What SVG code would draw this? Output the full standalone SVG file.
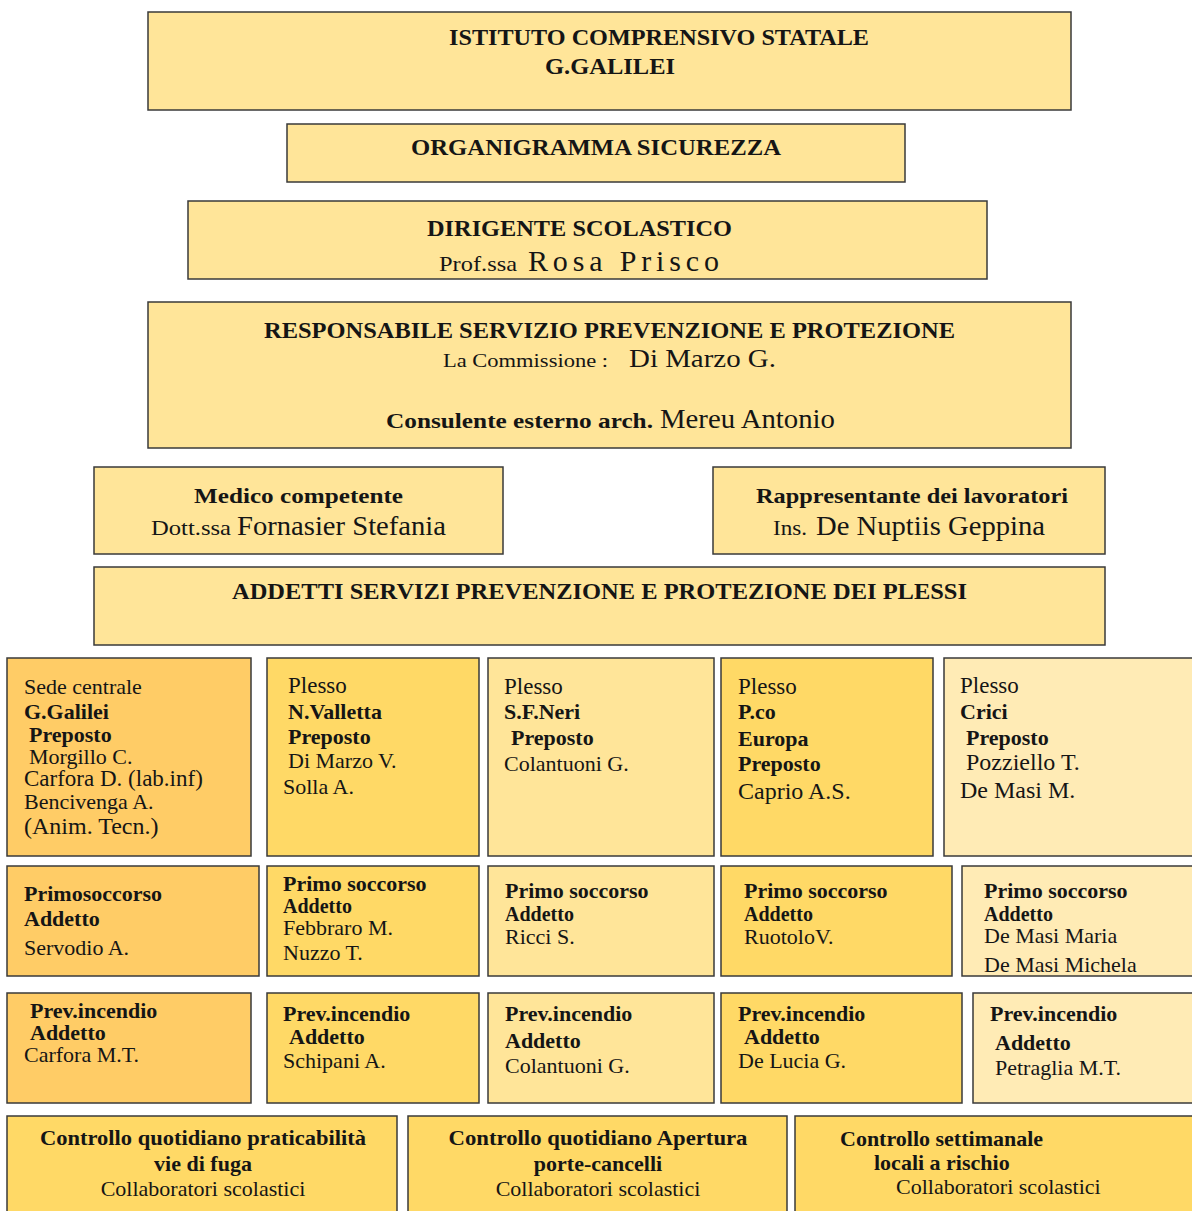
<svg xmlns="http://www.w3.org/2000/svg" width="1192" height="1211" viewBox="0 0 1192 1211" font-family="'Liberation Serif', 'DejaVu Serif', 'Times New Roman', serif">
<style>
rect.b { stroke:#3a3a3a; stroke-width:1.5; }
.hd { fill:#FFE599; }
.c1 { fill:#FFCC66; } .c2 { fill:#FFD966; } .c3 { fill:#FFE599; } .c4 { fill:#FFD966; } .c5 { fill:#FFEBB5; } .cb { fill:#FFD966; }
text { font-family:'Liberation Serif', 'DejaVu Serif', 'Times New Roman', serif; fill:#151515; }
.B { font-weight:bold; }
.t { font-size:22px; }
.L { font-size:24px; }
.p { font-size:23px; }
.m { text-anchor:middle; }
</style>
<defs>
<clipPath id="clipCrici"><rect x="962" y="866" width="240" height="109"/></clipPath>
</defs>
<rect width="1192" height="1211" fill="#ffffff"/>

<g id="istituto">
<rect class="b hd" x="148" y="12" width="923" height="98"/>
<text class="B" x="449" y="45" font-size="24" textLength="420" lengthAdjust="spacingAndGlyphs">ISTITUTO COMPRENSIVO STATALE</text>
<text class="B" x="545" y="74" font-size="24" textLength="130" lengthAdjust="spacingAndGlyphs">G.GALILEI</text>
</g>

<g id="organigramma">
<rect class="b hd" x="287" y="124" width="618" height="58"/>
<text class="B" x="411" y="155" font-size="24" textLength="370" lengthAdjust="spacingAndGlyphs">ORGANIGRAMMA  SICUREZZA</text>
</g>

<g id="dirigente">
<rect class="b hd" x="188" y="201" width="799" height="78"/>
<text class="B" x="427" y="236" font-size="24" textLength="305" lengthAdjust="spacingAndGlyphs">DIRIGENTE SCOLASTICO</text>
<text x="439" y="271" font-size="22" textLength="78" lengthAdjust="spacingAndGlyphs">Prof.ssa</text>
<text x="528" y="271" font-size="30" textLength="191" lengthAdjust="spacing">Rosa Prisco</text>
</g>

<g id="rspp">
<rect class="b hd" x="148" y="302" width="923" height="146"/>
<text class="B" x="264" y="338" font-size="24" textLength="691" lengthAdjust="spacingAndGlyphs">RESPONSABILE SERVIZIO PREVENZIONE E PROTEZIONE</text>
<text x="443" y="367" font-size="19" textLength="165" lengthAdjust="spacingAndGlyphs">La Commissione :</text>
<text x="629" y="367" font-size="26" textLength="147" lengthAdjust="spacingAndGlyphs">Di Marzo  G.</text>
<text class="B" x="386" y="428" font-size="21" textLength="267" lengthAdjust="spacingAndGlyphs">Consulente  esterno  arch.</text>
<text x="660" y="428" font-size="28" textLength="175" lengthAdjust="spacingAndGlyphs">Mereu Antonio</text>
</g>

<g id="medico">
<rect class="b hd" x="94" y="467" width="409" height="87"/>
<text class="B" x="194" y="503" font-size="22" textLength="209" lengthAdjust="spacingAndGlyphs">Medico  competente</text>
<text x="151" y="535" font-size="21" textLength="80" lengthAdjust="spacingAndGlyphs">Dott.ssa</text>
<text x="237" y="535" font-size="28" textLength="209" lengthAdjust="spacingAndGlyphs">Fornasier Stefania</text>
</g>

<g id="rappresentante">
<rect class="b hd" x="713" y="467" width="392" height="87"/>
<text class="B" x="756" y="503" font-size="22" textLength="312" lengthAdjust="spacingAndGlyphs">Rappresentante dei lavoratori</text>
<text x="773" y="535" font-size="21" textLength="34" lengthAdjust="spacingAndGlyphs">Ins.</text>
<text x="816" y="535" font-size="28" textLength="229" lengthAdjust="spacingAndGlyphs">De Nuptiis Geppina</text>
</g>

<g id="addetti">
<rect class="b hd" x="94" y="567" width="1011" height="78"/>
<text class="B" x="232" y="599" font-size="24" textLength="735" lengthAdjust="spacingAndGlyphs">ADDETTI SERVIZI PREVENZIONE E PROTEZIONE DEI PLESSI</text>
</g>

<!-- Plessi row -->
<g id="sede-centrale">
<rect class="b c1" x="7" y="658" width="244" height="198"/>
<text class="t" x="24" y="694">Sede centrale</text>
<text class="t B" x="24" y="719">G.Galilei</text>
<text class="t B" x="29" y="742">Preposto</text>
<text class="t" x="29" y="764">Morgillo C.</text>
<text class="p" x="24" y="786">Carfora D. (lab.inf)</text>
<text class="t" x="24" y="809">Bencivenga A.</text>
<text class="L" x="24" y="834">(Anim. Tecn.)</text>
</g>

<g id="plesso-valletta">
<rect class="b c2" x="267" y="658" width="212" height="198"/>
<text class="p" x="288" y="693">Plesso</text>
<text class="t B" x="288" y="719">N.Valletta</text>
<text class="t B" x="288" y="744">Preposto</text>
<text class="t" x="288" y="768">Di Marzo V.</text>
<text class="t" x="283" y="794">Solla A.</text>
</g>

<g id="plesso-neri">
<rect class="b c3" x="488" y="658" width="226" height="198"/>
<text class="p" x="504" y="694">Plesso</text>
<text class="t B" x="504" y="719">S.F.Neri</text>
<text class="t B" x="511" y="745">Preposto</text>
<text class="t" x="504" y="771">Colantuoni G.</text>
</g>

<g id="plesso-europa">
<rect class="b c4" x="721" y="658" width="212" height="198"/>
<text class="p" x="738" y="694">Plesso</text>
<text class="t B" x="738" y="719">P.co</text>
<text class="t B" x="738" y="746">Europa</text>
<text class="t B" x="738" y="771">Preposto</text>
<text class="L" x="738" y="799">Caprio A.S.</text>
</g>

<g id="plesso-crici">
<rect class="b c5" x="944" y="658" width="260" height="198"/>
<text class="p" x="960" y="693">Plesso</text>
<text class="t B" x="960" y="719">Crici</text>
<text class="t B" x="966" y="745">Preposto</text>
<text class="L" x="966" y="770">Pozziello T.</text>
<text class="L" x="960" y="798">De Masi M.</text>
</g>

<!-- Primo soccorso row -->
<g id="ps-sede">
<rect class="b c1" x="7" y="866" width="252" height="110"/>
<text class="t B" x="24" y="901">Primosoccorso</text>
<text class="t B" x="24" y="926">Addetto</text>
<text class="t" x="24" y="955">Servodio A.</text>
</g>

<g id="ps-valletta">
<rect class="b c2" x="267" y="866" width="212" height="110"/>
<text class="t B" x="283" y="891">Primo soccorso</text>
<text class="B" x="283" y="913" font-size="20">Addetto</text>
<text class="t" x="283" y="935">Febbraro M.</text>
<text class="t" x="283" y="960">Nuzzo T.</text>
</g>

<g id="ps-neri">
<rect class="b c3" x="488" y="866" width="226" height="110"/>
<text class="t B" x="505" y="898">Primo soccorso</text>
<text class="B" x="505" y="921" font-size="20">Addetto</text>
<text class="t" x="505" y="944">Ricci S.</text>
</g>

<g id="ps-europa">
<rect class="b c4" x="721" y="866" width="231" height="110"/>
<text class="t B" x="744" y="898">Primo soccorso</text>
<text class="B" x="744" y="921" font-size="20">Addetto</text>
<text class="t" x="744" y="944">RuotoloV.</text>
</g>

<g id="ps-crici">
<rect class="b c5" x="962" y="866" width="240" height="110"/>
<text class="t B" x="984" y="898">Primo soccorso</text>
<text class="B" x="984" y="921" font-size="20">Addetto</text>
<text class="t" x="984" y="943">De Masi Maria</text>
<text class="t" x="984" y="972" clip-path="url(#clipCrici)">De Masi Michela</text>
</g>

<!-- Prevenzione incendio row -->
<g id="pi-sede">
<rect class="b c1" x="7" y="993" width="244" height="110"/>
<text class="t B" x="30" y="1018">Prev.incendio</text>
<text class="t B" x="30" y="1040">Addetto</text>
<text class="t" x="24" y="1062">Carfora M.T.</text>
</g>

<g id="pi-valletta">
<rect class="b c2" x="267" y="993" width="212" height="110"/>
<text class="t B" x="283" y="1021">Prev.incendio</text>
<text class="t B" x="289" y="1044">Addetto</text>
<text class="t" x="283" y="1068">Schipani A.</text>
</g>

<g id="pi-neri">
<rect class="b c3" x="488" y="993" width="226" height="110"/>
<text class="t B" x="505" y="1021">Prev.incendio</text>
<text class="t B" x="505" y="1048">Addetto</text>
<text class="t" x="505" y="1073">Colantuoni G.</text>
</g>

<g id="pi-europa">
<rect class="b c4" x="721" y="993" width="241" height="110"/>
<text class="t B" x="738" y="1021">Prev.incendio</text>
<text class="t B" x="744" y="1044">Addetto</text>
<text class="t" x="738" y="1068">De Lucia G.</text>
</g>

<g id="pi-crici">
<rect class="b c5" x="973" y="993" width="230" height="110"/>
<text class="t B" x="990" y="1021">Prev.incendio</text>
<text class="t B" x="995" y="1050">Addetto</text>
<text class="t" x="995" y="1075">Petraglia M.T.</text>
</g>

<!-- Controlli row -->
<g id="controllo-vie-fuga">
<rect class="b cb" x="7" y="1116" width="390" height="110"/>
<text class="t B m" x="203" y="1145" textLength="326" lengthAdjust="spacingAndGlyphs">Controllo quotidiano  praticabilità</text>
<text class="t B m" x="203" y="1171">vie di fuga</text>
<text class="t m" x="203" y="1196">Collaboratori scolastici</text>
</g>

<g id="controllo-apertura">
<rect class="b cb" x="408" y="1116" width="379" height="110"/>
<text class="t B m" x="598" y="1145" textLength="299" lengthAdjust="spacingAndGlyphs">Controllo quotidiano  Apertura</text>
<text class="t B m" x="598" y="1171">porte-cancelli</text>
<text class="t m" x="598" y="1196">Collaboratori scolastici</text>
</g>

<g id="controllo-settimanale">
<rect class="b cb" x="795" y="1116" width="410" height="110"/>
<text class="t B" x="840" y="1146">Controllo settimanale</text>
<text class="t B" x="874" y="1170">locali a rischio</text>
<text class="t" x="896" y="1194">Collaboratori scolastici</text>
</g>

<g id="connectors"></g>
</svg>
